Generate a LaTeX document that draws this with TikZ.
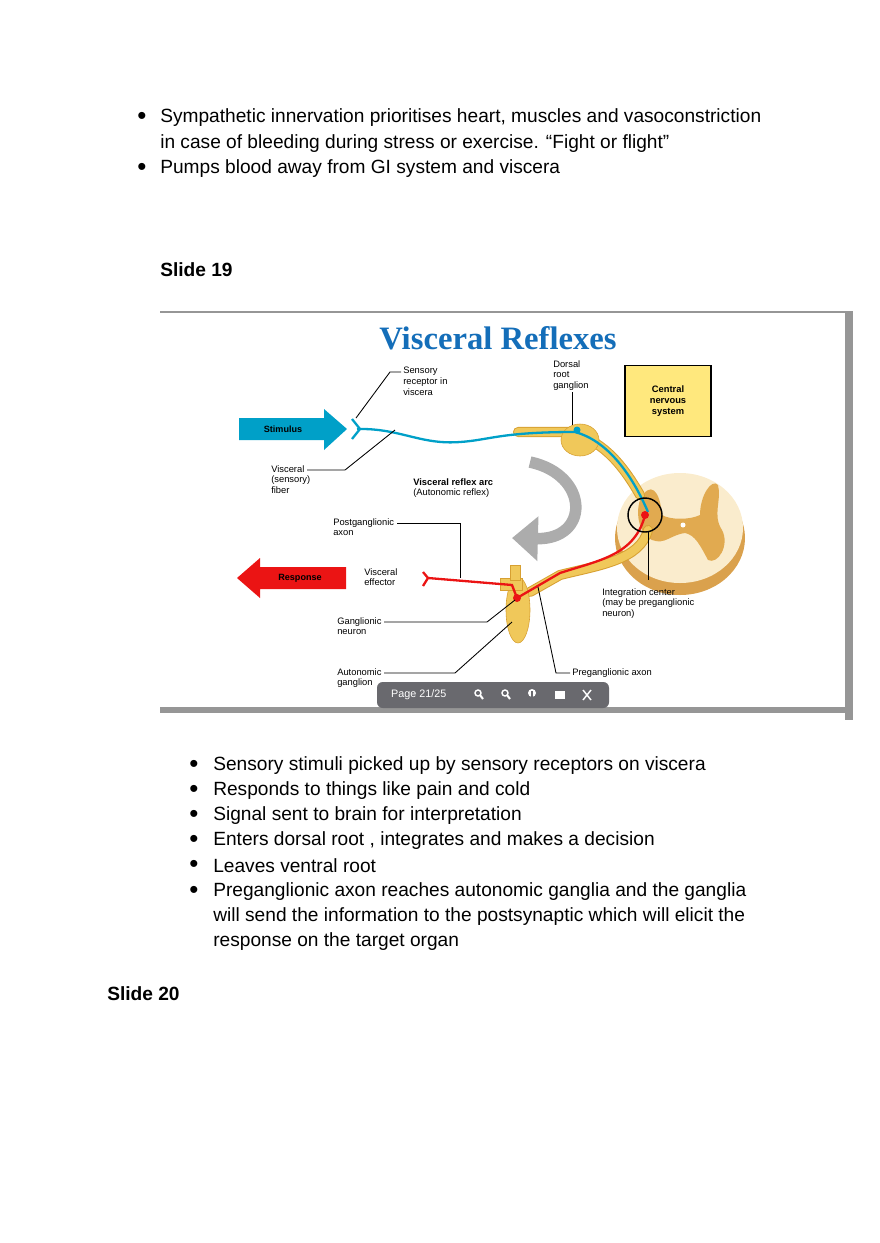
\documentclass[tikz,border=0pt]{standalone}
\usepackage{fontspec}
\setmainfont{Liberation Sans}
\newfontfamily\titlefont{Liberation Serif}
\usetikzlibrary{arrows.meta,positioning}
\definecolor{titlecol}{RGB}{20,110,185}
\definecolor{sensecol}{RGB}{0,160,200}
\definecolor{motorcol}{RGB}{235,20,20}
\definecolor{nervecol}{RGB}{240,200,90}
\definecolor{nerveedge}{RGB}{215,160,50}
\definecolor{cordcol}{RGB}{250,236,205}
\definecolor{greycol}{RGB}{225,170,80}
\definecolor{cnscol}{RGB}{255,232,125}
\definecolor{framecol}{RGB}{150,150,150}
\definecolor{barcol}{RGB}{105,105,110}
\tikzset{
  body text/.style = {anchor=west, font=\fontsize{13.3}{16}\selectfont, inner sep=0pt},
  bullet/.style = {anchor=center, font=\fontsize{18}{18}\selectfont, inner sep=0pt},
  slide head/.style = {anchor=west, font=\fontsize{13.3}{16}\selectfont\bfseries, inner sep=0pt},
  small label/.style = {anchor=north west, align=left, inner sep=0pt,
    font=\fontsize{6.5}{7.4}\selectfont},
  leader/.style = {black, line width=0.6pt},
  nerve/.style = {nerveedge, line width=7pt, line cap=round},
  nerve fill/.style = {nervecol, line width=5.6pt, line cap=round},
  sense fibre/.style = {sensecol, line width=1.6pt},
  motor fibre/.style = {motorcol, line width=1.6pt},
  arrow text/.style = {font=\fontsize{6.3}{7}\selectfont\bfseries, inner sep=0pt}
}
\begin{document}
\begin{tikzpicture}[x=0.695pt,y=-0.695pt]
  \useasboundingbox (0,0) rectangle (880,1243);

  % top bullets
  \foreach \yy/\txt [count=\i] in {118/{Sympathetic innervation prioritises heart, muscles and vasoconstriction},
      144/{in case of bleeding during stress or exercise. ``Fight or flight''},
      169/{Pumps blood away from GI system and viscera}}
    \node[body text] (top\i) at (160,\yy) {\txt};
  \node[bullet] (tb1) at (142,118) {\textbullet};
  \node[bullet] (tb2) at (142,169) {\textbullet};
  \node[slide head] (s19) at (160,270) {Slide 19};

  % slide frame
  \draw[framecol, line width=1pt] (160,312) -- (853,312);
  \fill[framecol] (845,312) rectangle (853,720);
  \fill[framecol] (160,707) rectangle (845,713);

  \node[font=\titlefont\fontsize{22.7}{24}\selectfont\bfseries, text=titlecol] (title) at (498,338) {Visceral Reflexes};

  % spinal cord
  \fill[greycol!80!brown] (680,538) ellipse (65 and 57);
  \fill[cordcol] (680,528) ellipse (63 and 55);
  \fill[greycol] (640,500) .. controls (650,480) and (660,490) .. (662,515)
     .. controls (670,520) and (690,520) .. (700,515) .. controls (700,495) and (712,478) .. (718,485)
     .. controls (722,500) and (712,515) .. (722,530) .. controls (730,545) and (718,565) .. (708,560)
     .. controls (700,545) and (695,535) .. (685,533) .. controls (670,535) and (665,545) .. (652,540)
     .. controls (640,535) and (635,515) .. (640,500) -- cycle;
  \fill[white] (683,525) circle (2.5);

  % nerve trunks
  \draw[nerve] (518,432) -- (570,432) .. controls (600,440) and (620,460) .. (640,495);
  \draw[nerve] (648,530) .. controls (640,560) and (600,565) .. (560,575) -- (530,592);
  \draw[nerve fill] (518,432) -- (570,432) .. controls (600,440) and (620,460) .. (640,495);
  \draw[nerve fill] (648,530) .. controls (640,560) and (600,565) .. (560,575) -- (530,592);
  \fill[nervecol, draw=nerveedge] (580,440) ellipse (19 and 16);
  \fill[nervecol, draw=nerveedge] (518,610) ellipse (12 and 33);
  \fill[nervecol, draw=nerveedge] (500,578) rectangle (522,590);
  \fill[nervecol, draw=nerveedge] (510,565) rectangle (520,580);

  % central nervous system box
  \node[draw, line width=0.8pt, fill=cnscol, minimum width=86*0.695pt, minimum height=71*0.695pt,
    align=center, font=\fontsize{6.5}{7.8}\selectfont\bfseries] (cns) at (668,401) {Central\\nervous\\system};

  % sensory and motor pathways
  \draw[sense fibre] (357,429) .. controls (400,428) and (420,445) .. (460,442)
     .. controls (490,440) and (500,432) .. (575,432) .. controls (605,440) and (630,470) .. (648,512);
  \fill[sensecol] (577,430) circle (3.5);
  \draw[sense fibre] (352,419) -- (360,429) -- (352,439);
  \draw[motor fibre] (645,515) .. controls (635,555) and (600,560) .. (560,573) -- (517,598);
  \draw[motor fibre] (517,598) -- (512,585) -- (428,578);
  \draw[motor fibre] (423,572) -- (428,578) -- (423,586);
  \fill[motorcol] (645,515) circle (4);
  \fill[motorcol] (517,598) circle (4);
  \draw[black, line width=1pt] (645,515) circle (17);
  \coordinate (integ) at (648,532);

  % visceral reflex arc
  \draw[gray!65, line width=8pt, -{Triangle[length=18pt,width=30pt]}]
     (530,462) .. controls (590,475) and (590,540) .. (512,538);

  % big arrows
  \fill[sensecol] (239,418) -- (324,418) -- (324,409) -- (347,429) -- (324,450) -- (324,440) -- (239,440) -- cycle;
  \node[arrow text] (stim) at (283,429) {Stimulus};
  \fill[motorcol] (346,567) -- (260,567) -- (260,558) -- (237,578) -- (260,598) -- (260,589) -- (346,589) -- cycle;
  \node[arrow text] (resp) at (300,578) {Response};

  % labels and leaders
  \node[small label] (sens) at (403,367) {Sensory\\receptor in\\viscera};
  \draw[leader] (401,372) -- (390,372) -- (356,418);
  \node[small label] (drg) at (553,360) {Dorsal\\root\\ganglion};
  \draw[leader] (572,392) -- (572,425);
  \node[small label] (vsf) at (271,465) {Visceral\\(sensory)\\fiber};
  \draw[leader] (307,470) -- (345,470) -- (395,430);
  \node[small label] (arc) at (413,478) {\textbf{Visceral reflex arc}\\(Autonomic reflex)};
  \node[small label] (post) at (333,518) {Postganglionic\\axon};
  \draw[leader] (397,523) -- (460,523) -- (460,578);
  \node[small label] (eff) at (364,568) {Visceral\\effector};
  \node[small label] (gn) at (337,617) {Ganglionic\\neuron};
  \draw[leader] (384,622) -- (487,622) -- (515,600);
  \node[small label] (ag) at (337,668) {Autonomic\\ganglion};
  \draw[leader] (384,673) -- (455,673) -- (512,622);
  \node[small label] (pre) at (572,668) {Preganglionic axon};
  \draw[leader] (570,673) -- (556,673) -- (538,587);
  \node[small label] (ic) at (602,588) {Integration center\\(may be preganglionic\\neuron)};
  \draw[leader] (integ) -- (648,580);

  % viewer toolbar
  \node[fill=barcol, rounded corners=4pt, minimum width=232*0.695pt, minimum height=26*0.695pt] (bar) at (493,695) {};
  \node[text=white, font=\fontsize{7.5}{8}\selectfont, anchor=west] (page) at (386,695) {Page 21/25};
  \foreach \xx in {478,505} {
    \draw[white, line width=1pt] (\xx,693) circle (3);
    \draw[white, line width=1.4pt] (\xx+2,695) -- (\xx+5,699);
  }
  \fill[white] (532,693) circle (4);
  \draw[barcol, line width=1pt] (532,691) -- (532,698);
  \fill[white] (555,691) rectangle (565,699);
  \draw[white, line width=1pt] (583,690) -- (591,700) (591,690) -- (583,700);

  % bottom bullets
  \foreach \yy/\txt [count=\i] in {766/{Sensory stimuli picked up by sensory receptors on viscera},
      791/{Responds to things like pain and cold},
      816/{Signal sent to brain for interpretation},
      841/{Enters dorsal root , integrates and makes a decision},
      866/{Leaves ventral root},
      892/{Preganglionic axon reaches autonomic ganglia and the ganglia},
      917/{will send the information to the postsynaptic which will elicit the},
      942/{response on the target organ}}
    \node[body text] (bot\i) at (213,\yy) {\txt};
  \foreach \yy [count=\i] in {766,791,816,841,866,892}
    \node[bullet] (bb\i) at (194,\yy) {\textbullet};
  \node[slide head] (s20) at (107,994) {Slide 20};
\end{tikzpicture}
\end{document}
